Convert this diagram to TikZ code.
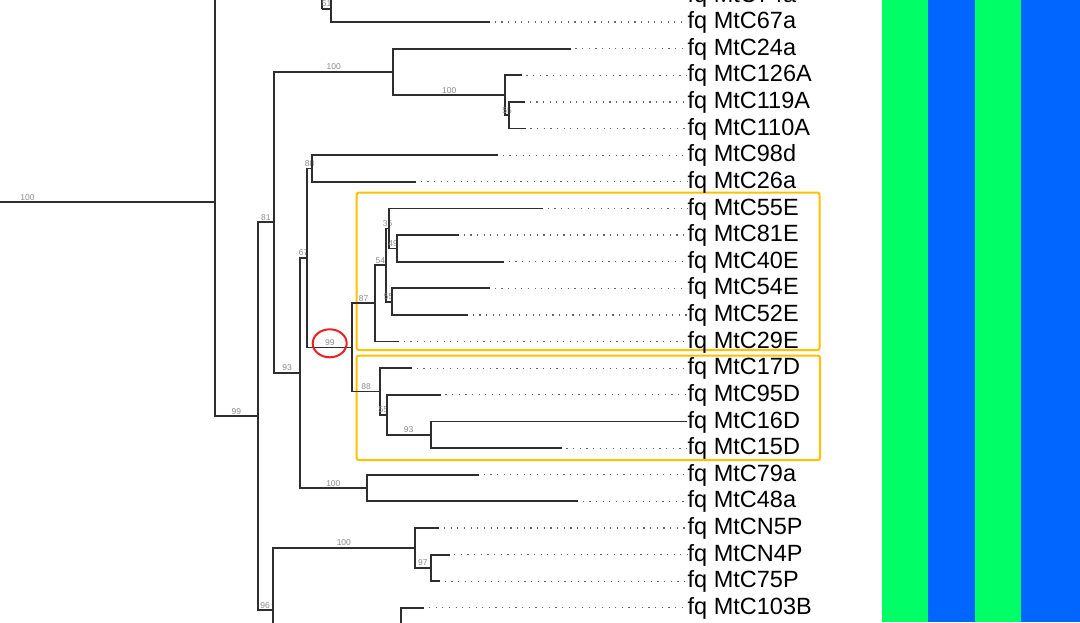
\documentclass[tikz,border=0pt]{standalone}
\usepackage{fontspec}
\setmainfont{Liberation Sans}
\definecolor{stripegreen}{RGB}{0,255,102}
\definecolor{stripeblue}{RGB}{0,102,255}
\definecolor{cladeyellow}{RGB}{255,192,0}
\definecolor{markred}{RGB}{235,32,32}
\tikzset{
    branch/.style={line width=1.8pt, draw=black!82},
    dots/.style={line width=1.2pt, draw=black!60, dash pattern=on 1.2pt off 5.45pt, dash phase=2pt},
    leaf/.style={anchor=base west, inner sep=0pt, font=\fontsize{23.5}{28}\selectfont},
    boot/.style={above, inner sep=1pt, text=black!45, font=\fontsize{8.5}{9}\selectfont},
    clade box/.style={draw=cladeyellow, line width=2pt, rounded corners=2pt}
}

\begin{document}
\begin{tikzpicture}[x=1pt,y=-1pt]
    \useasboundingbox (0,0) rectangle (1080,622);
    \clip (0,0) rectangle (1080,622);
    % colour strips
    \fill[stripegreen] (882,0) rectangle (928,622);
    \fill[stripeblue] (928,0) rectangle (974.7,622);
    \fill[stripegreen] (974.7,0) rectangle (1020.7,622);
    \fill[stripeblue] (1020.7,0) rectangle (1080,622);
    % clade boxes
    \draw[clade box] (356.7,192.7) rectangle (819.5,350);
    \draw[clade box] (356.7,355.7) rectangle (820,460);
    % leaves
    \foreach \name/\tipx/\i in {74a/470/0, 67a/490/1, 24a/570.7/2, 126A/521.7/3, 119A/525/4,
        110A/525.7/5, 98d/498/6, 26a/416/7, 55E/543/8, 81E/459/9, 40E/504/10, 54E/490/11,
        52E/468/12, 29E/399/13, 17D/412/14, 95D/440.7/15, 16D/686.7/16, 15D/561.7/17,
        79a/479/18, 48a/578/19, N5P/439.3/20, N4P/449.5/21, 75P/440/22, 103B/424.3/23}{
        \coordinate (t\name) at (\tipx, {-4.6+26.63*\i});
        \node[leaf] (L\name) at (687.5, {2.0+26.63*\i}) {fq MtC\name};
        \draw[dots] (t\name) -- (t\name -| L\name.west);
    }
    % inner nodes
    \coordinate (r0) at (-160,202.3);
    \coordinate (nA) at (215,202.3);
    \coordinate (cTop) at (215,-20);
    \coordinate (n99) at (257.7,416.2);
    \coordinate (n81) at (274,222.3);
    \coordinate (n96) at (272.7,610);
    \coordinate (cBot) at (272.7,680);
    \coordinate (n100a) at (393.3,71.8);
    \coordinate (n100b) at (505,95.2);
    \coordinate (n55a) at (509,115.2);
    \coordinate (n93) at (300,372.8);
    \coordinate (n67) at (307.3,257.9);
    \coordinate (n88a) at (311.7,168.5);
    \coordinate (n99b) at (352.3,347.4);
    \coordinate (n87) at (375,303.3);
    \coordinate (n54) at (385.7,265.0);
    \coordinate (n35) at (389.3,228.4);
    \coordinate (n49) at (396.7,248.4);
    \coordinate (n55b) at (391.7,301.6);
    \coordinate (n88b) at (380,391.5);
    \coordinate (n55c) at (386.7,414.8);
    \coordinate (n93b) at (430.7,434.8);
    \coordinate (n100c) at (366.7,488.0);
    \coordinate (n100d) at (415,547.8);
    \coordinate (n97) at (430.7,567.9);
    \coordinate (n103) at (401,660);
    \coordinate (n51) at (322,8.7);
    \coordinate (cTop2) at (322,-20);
    \coordinate (n51c) at (331,8.7);
    % branches
    \draw[branch] (r0) -- node[boot]{100} (nA);
    \draw[branch] (nA) -- (cTop);
    \draw[branch] (nA) |- node[boot,pos=0.75]{99} (n99);
    \draw[branch] (n99) |- node[boot,pos=0.75]{81} (n81);
    \draw[branch] (n99) |- node[boot,pos=0.75]{96} (n96);
    \draw[branch] (n96) -- (cBot);
    \draw[branch] (n96) |- node[boot,pos=0.75]{100} (n100d);
    \draw[branch] (n100d) |- (tN5P);
    \draw[branch] (n100d) |- node[boot,pos=0.75]{97} (n97);
    \draw[branch] (n97) |- (tN4P);
    \draw[branch] (n97) |- (t75P);
    \draw[branch] (n103) |- (t103B);
    \draw[branch] (n81) |- node[boot,pos=0.75]{100} (n100a);
    \draw[branch] (n100a) |- (t24a);
    \draw[branch] (n100a) |- node[boot,pos=0.75]{100} (n100b);
    \draw[branch] (n100b) |- (t126A);
    \draw[branch] (n100b) |- node[boot,pos=0.75]{55} (n55a);
    \draw[branch] (n55a) |- (t119A);
    \draw[branch] (n55a) |- (t110A);
    \draw[branch] (n81) |- node[boot,pos=0.75]{93} (n93);
    \draw[branch] (n93) |- node[boot,pos=0.75]{67} (n67);
    \draw[branch] (n93) |- node[boot,pos=0.75]{100} (n100c);
    \draw[branch] (n100c) |- (t79a);
    \draw[branch] (n100c) |- (t48a);
    \draw[branch] (n67) |- node[boot,pos=0.75]{88} (n88a);
    \draw[branch] (n88a) |- (t98d);
    \draw[branch] (n88a) |- (t26a);
    \draw[branch] (n67) |- node[boot,pos=0.75]{99} (n99b);
    \draw[branch] (n99b) |- node[boot,pos=0.75]{87} (n87);
    \draw[branch] (n87) |- node[boot,pos=0.75]{54} (n54);
    \draw[branch] (n87) |- (t29E);
    \draw[branch] (n54) |- node[boot,pos=0.75]{35} (n35);
    \draw[branch] (n35) |- (t55E);
    \draw[branch] (n35) |- node[boot,pos=0.75]{49} (n49);
    \draw[branch] (n49) |- (t81E);
    \draw[branch] (n49) |- (t40E);
    \draw[branch] (n54) |- node[boot,pos=0.75]{55} (n55b);
    \draw[branch] (n55b) |- (t54E);
    \draw[branch] (n55b) |- (t52E);
    \draw[branch] (n99b) |- node[boot,pos=0.75]{88} (n88b);
    \draw[branch] (n88b) |- (t17D);
    \draw[branch] (n88b) |- node[boot,pos=0.75]{55} (n55c);
    \draw[branch] (n55c) |- (t95D);
    \draw[branch] (n55c) |- node[boot,pos=0.75]{93} (n93b);
    \draw[branch] (n93b) |- (t16D);
    \draw[branch] (n93b) |- (t15D);
    \draw[branch] (n51) -- (cTop2);
    \draw[branch] (n51) -- node[boot]{51} (n51c);
    \draw[branch] (n51c) |- (t74a);
    \draw[branch] (n51c) |- (t67a);
    % marked node
    \coordinate (mark) at (329.7,343.3);
    \draw[markred, line width=2pt] (mark) ellipse [x radius=17, y radius=14];
\end{tikzpicture}
\end{document}
